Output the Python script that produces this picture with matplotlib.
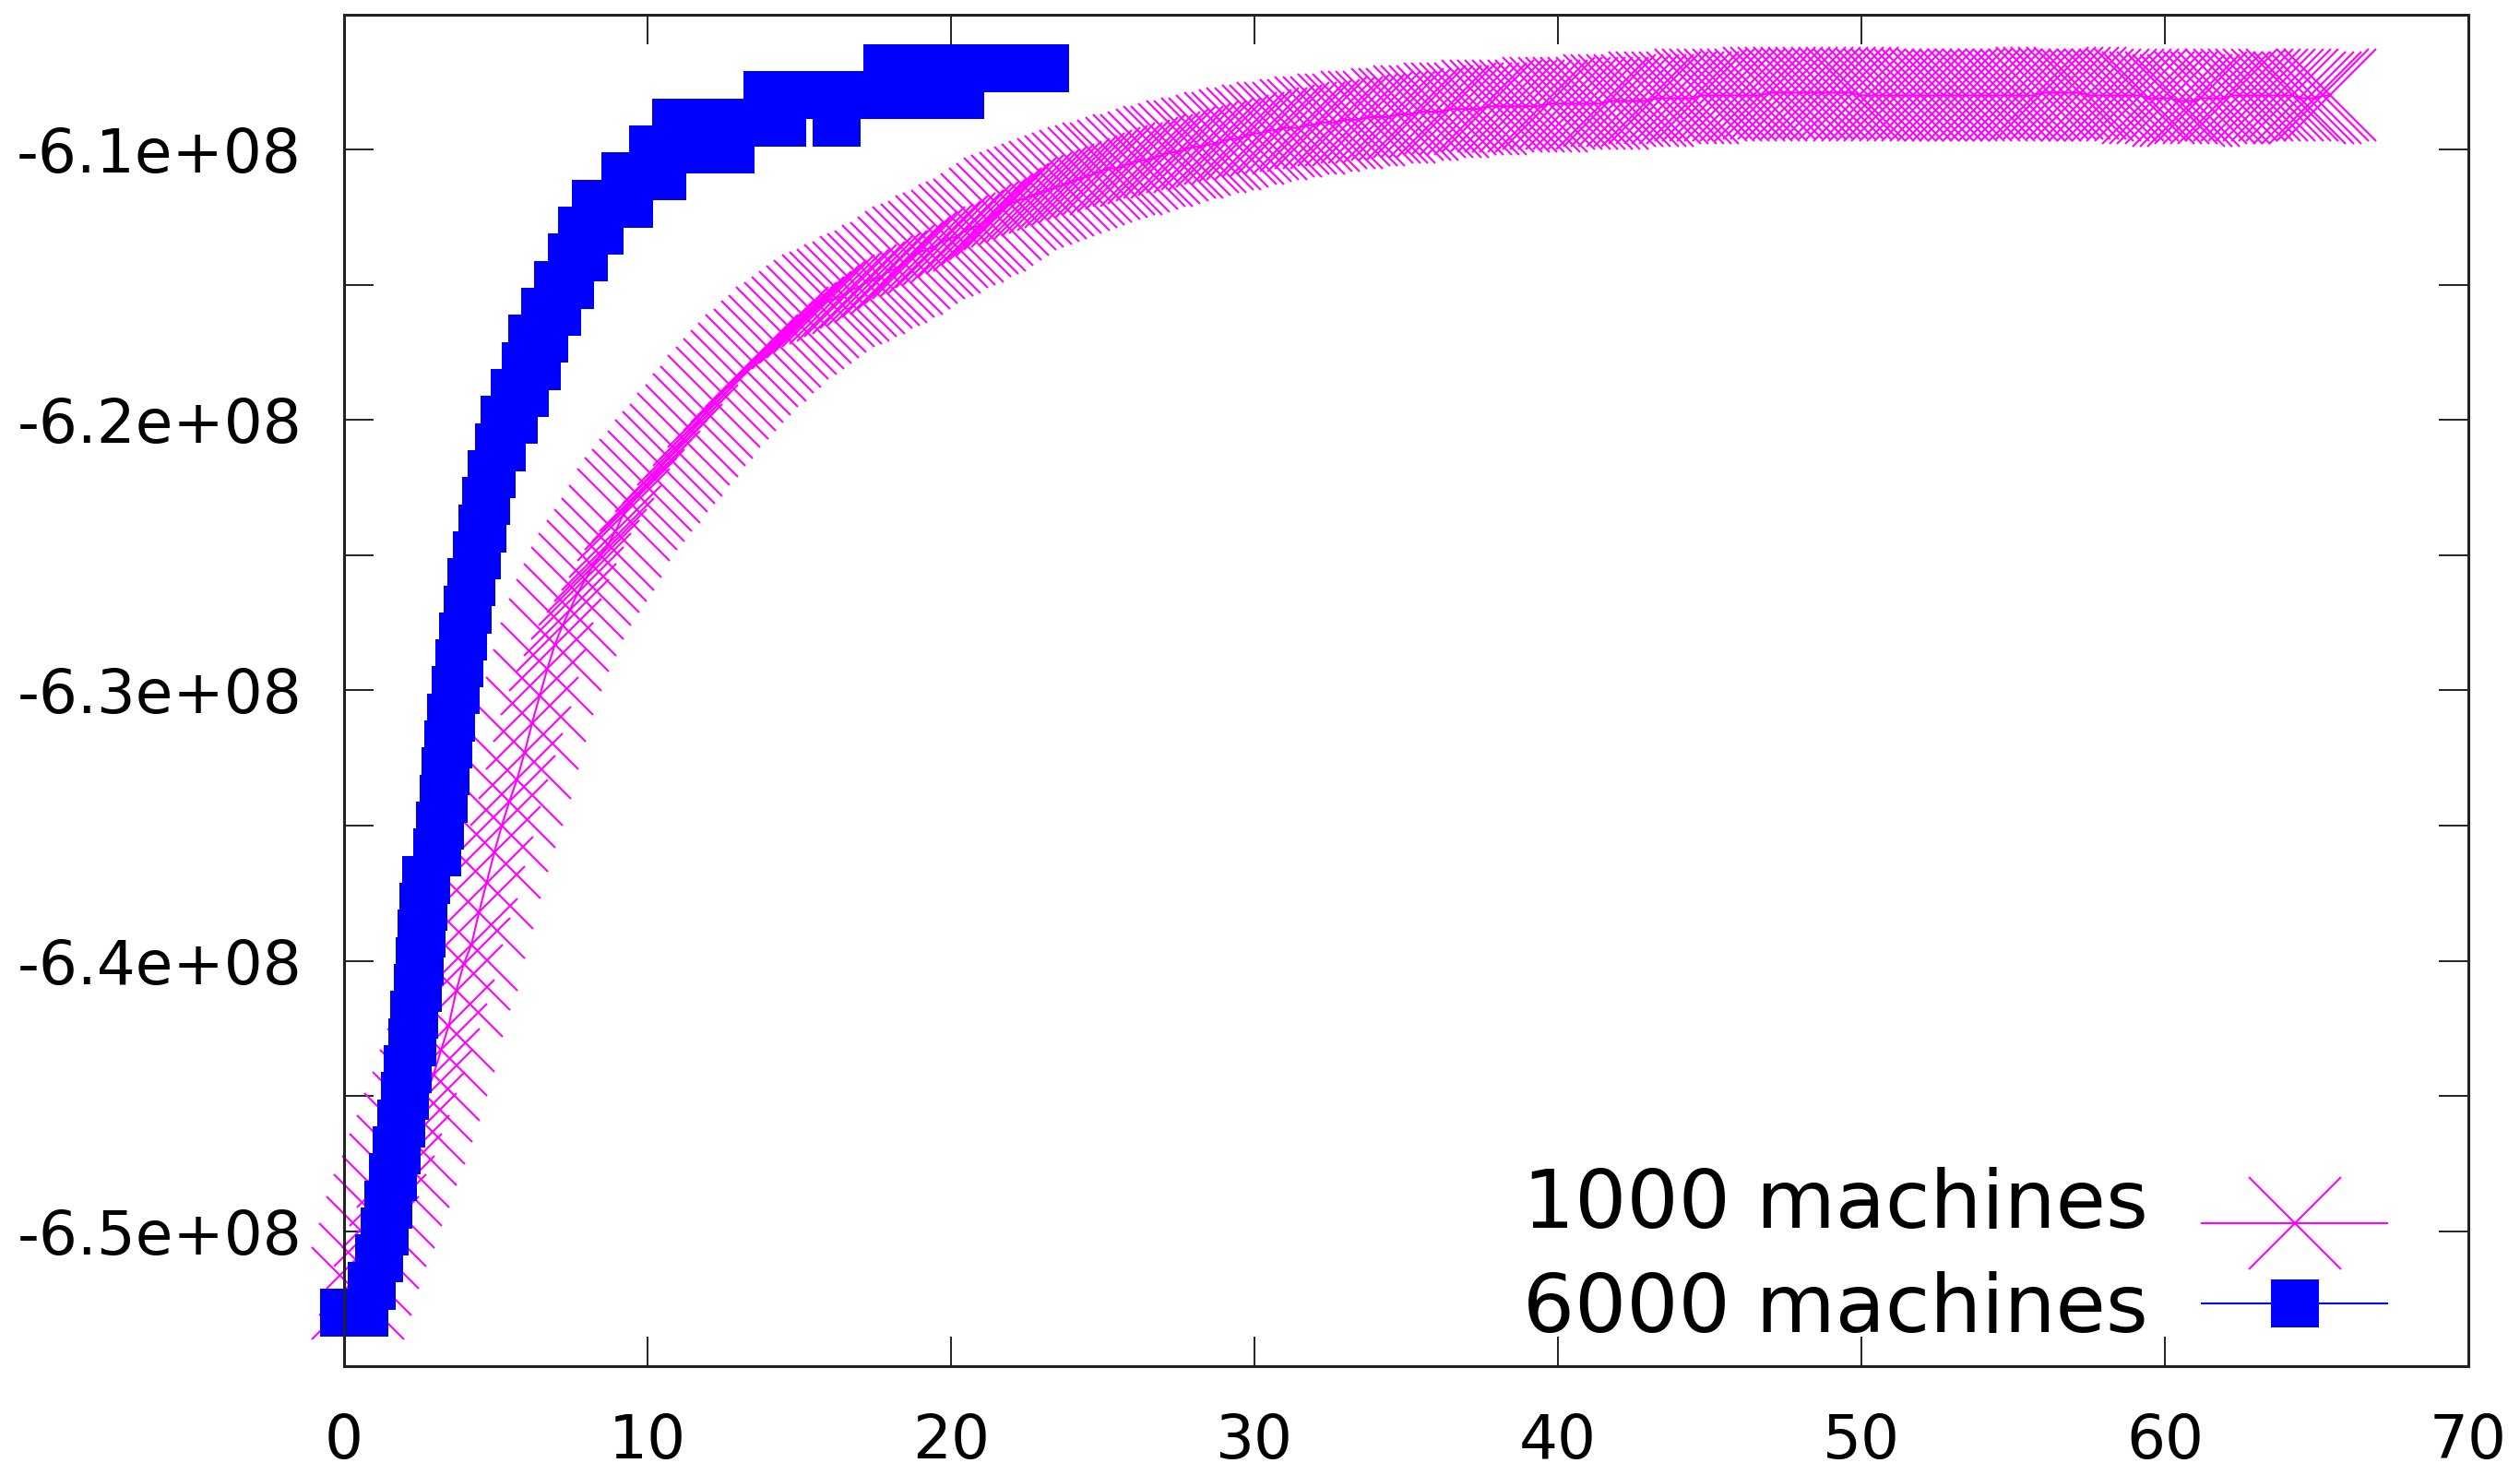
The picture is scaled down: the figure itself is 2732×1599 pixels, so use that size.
import matplotlib
matplotlib.use("Agg")
import matplotlib.pyplot as plt
from matplotlib.ticker import FixedLocator, FuncFormatter
from matplotlib.legend_handler import HandlerLine2D
import numpy as np

# ---------------- data ----------------
series_labels = ["1000 machines", "6000 machines"]

# 1000 machines (x = time, y in units of 1e6)
mag_x = [
    0.45, 0.70, 0.95, 1.20, 1.45, 1.70, 1.95, 2.20, 2.45, 2.70,
    2.95, 3.20, 3.45, 3.70, 3.95, 4.20, 4.45, 4.70, 4.95, 5.20,
    5.45, 5.70, 5.95, 6.20, 6.45, 6.70, 6.95, 7.20, 7.45, 7.70,
    7.95, 8.20, 8.45, 8.70, 8.95, 9.20, 9.45, 9.70, 9.95, 10.20,
    10.45, 10.70, 10.95, 11.20, 11.45, 11.70, 11.95, 12.20, 12.45, 12.70,
    12.95, 13.20, 13.45, 13.70, 13.95, 14.20, 14.45, 14.70, 14.95, 15.20,
    15.45, 15.70, 15.95, 16.20, 16.45, 16.70, 16.95, 17.20, 17.45, 17.70,
    17.95, 18.20, 18.45, 18.70, 18.95, 19.20, 19.45, 19.70, 19.95, 20.20,
    20.45, 20.70, 20.95, 21.20, 21.45, 21.70, 21.95, 22.20, 22.45, 22.70,
    22.95, 23.20, 23.45, 23.70, 23.95, 24.20, 24.45, 24.70, 24.95, 25.20,
    25.45, 25.70, 25.95, 26.20, 26.45, 26.70, 26.95, 27.20, 27.45, 27.70,
    27.95, 28.20, 28.45, 28.70, 28.95, 29.20, 29.45, 29.70, 29.95, 30.20,
    30.45, 30.70, 30.95, 31.20, 31.45, 31.70, 31.95, 32.20, 32.45, 32.70,
    32.95, 33.20, 33.45, 33.70, 33.95, 34.20, 34.45, 34.70, 34.95, 35.20,
    35.45, 35.70, 35.95, 36.20, 36.45, 36.70, 36.95, 37.20, 37.45, 37.70,
    37.95, 38.20, 38.45, 38.70, 38.95, 39.20, 39.45, 39.70, 39.95, 40.20,
    40.45, 40.70, 40.95, 41.20, 41.45, 41.70, 41.95, 42.20, 42.45, 42.70,
    42.95, 43.20, 43.45, 43.70, 43.95, 44.20, 44.45, 44.70, 44.95, 45.20,
    45.45, 45.70, 45.95, 46.20, 46.45, 46.70, 46.95, 47.20, 47.45, 47.70,
    47.95, 48.20, 48.45, 48.70, 48.95, 49.20, 49.45, 49.70, 49.95, 50.20,
    50.45, 50.70, 50.95, 51.20, 51.45, 51.70, 51.95, 52.20, 52.45, 52.70,
    52.95, 53.20, 53.45, 53.70, 53.95, 54.20, 54.45, 54.70, 54.95, 55.20,
    55.45, 55.70, 55.95, 56.20, 56.45, 56.70, 56.95, 57.20, 57.45, 57.70,
    57.95, 58.20, 58.45, 58.70, 58.95, 59.20, 59.45, 59.70, 59.95, 60.20,
    60.45, 60.70, 60.95, 61.20, 61.45, 61.70, 61.95, 62.20, 62.45, 62.70,
    62.95, 63.20, 63.45, 63.70, 63.95, 64.20, 64.45, 64.70, 64.95, 65.20,
    65.45,
]
mag_y = [
    -652.3, -651.4, -650.4, -649.6, -648.9, -648.1, -647.4, -646.6, -645.8, -645.0,
    -644.2, -643.3, -642.4, -641.1, -640.1, -639.4, -638.2, -637.1, -636.0, -635.0,
    -634.1, -633.3, -632.3, -631.2, -630.2, -629.2, -628.3, -627.6, -627.0, -626.4,
    -625.9, -625.4, -625.0, -624.6, -624.1, -623.5, -623.1, -622.8, -622.4, -622.1,
    -621.7, -621.4, -621.1, -620.7, -620.4, -620.0, -619.7, -619.3, -619.0, -618.7,
    -618.4, -618.1, -617.8, -617.6, -617.3, -617.1, -616.8, -616.6, -616.4, -616.2,
    -616.0, -615.8, -615.6, -615.5, -615.4, -615.2, -615.1, -614.9, -614.8, -614.7,
    -614.5, -614.4, -614.2, -614.0, -613.8, -613.7, -613.6, -613.4, -613.3, -613.2,
    -613.0, -612.9, -612.8, -612.6, -612.4, -612.2, -612.0, -611.9, -611.8, -611.7,
    -611.6, -611.5, -611.4, -611.3, -611.2, -611.1, -611.0, -610.9, -610.8, -610.7,
    -610.7, -610.6, -610.5, -610.4, -610.4, -610.3, -610.2, -610.1, -610.1, -610.0,
    -609.9, -609.9, -609.8, -609.8, -609.7, -609.6, -609.6, -609.5, -609.4, -609.4,
    -609.3, -609.3, -609.2, -609.2, -609.2, -609.1, -609.1, -609.0, -609.0, -609.0,
    -608.9, -608.9, -608.9, -608.8, -608.8, -608.8, -608.8, -608.7, -608.7, -608.7,
    -608.6, -608.6, -608.6, -608.6, -608.5, -608.5, -608.5, -608.5, -608.5, -608.4,
    -608.4, -608.4, -608.4, -608.4, -608.4, -608.4, -608.4, -608.3, -608.3, -608.3,
    -608.3, -608.3, -608.3, -608.3, -608.3, -608.2, -608.2, -608.2, -608.2, -608.2,
    -608.2, -608.1, -608.1, -608.1, -608.1, -608.1, -608.1, -608.0, -608.0, -608.0,
    -608.0, -608.0, -608.0, -608.0, -608.0, -608.0, -607.9, -607.9, -607.9, -607.9,
    -607.9, -607.9, -607.9, -607.9, -607.9, -607.9, -607.9, -607.9, -608.0, -608.0,
    -608.0, -608.0, -608.0, -608.0, -608.0, -608.0, -608.0, -608.0, -608.0, -608.0,
    -608.0, -608.0, -608.0, -608.0, -608.0, -608.0, -608.0, -608.0, -608.0, -608.0,
    -608.0, -608.0, -607.9, -607.9, -607.9, -607.9, -607.9, -607.9, -608.0, -608.0,
    -608.0, -608.0, -608.0, -608.0, -608.0, -608.0, -608.1, -608.1, -608.1, -608.1,
    -608.2, -608.2, -608.2, -608.1, -608.1, -608.1, -608.1, -608.0, -608.0, -608.0,
    -608.0, -608.0, -608.0, -608.0, -608.0, -608.0, -608.1, -608.1, -608.1, -608.0,
    -608.0,
]

# 6000 machines (x = time, y in units of 1e6)
blue_x = [
    0.00, 0.33, 0.67, 0.90, 1.15, 1.35, 1.45, 1.62, 1.73, 1.88,
    2.00, 2.10, 2.25, 2.31, 2.43, 2.50, 2.57, 2.63, 2.70, 3.07,
    3.17, 3.28, 3.34, 3.43, 3.54, 3.67, 3.80, 3.93, 4.08, 4.20,
    4.38, 4.55, 4.68, 4.88, 5.11, 5.20, 5.29, 5.45, 5.58, 5.64,
    5.80, 5.96, 6.00, 6.20, 6.36, 6.60, 6.63, 6.85, 7.02, 7.05,
    7.25, 7.45, 7.51, 7.70, 7.84, 7.89, 8.10, 8.30, 8.42, 8.60,
    8.85, 9.10, 9.26, 9.40, 9.60, 9.85, 10.17, 10.30, 10.49, 10.70,
    10.95, 11.20, 11.50, 11.80, 12.10, 12.40, 12.73, 13.00, 13.40, 13.70,
    13.94, 14.20, 14.44, 14.80, 15.20, 15.60, 16.00, 16.24, 16.60, 17.00,
    17.40, 17.90, 18.30, 18.80, 19.30, 19.80, 20.32, 20.80, 21.40, 22.00,
    22.60, 23.10,
]
blue_y = [
    -653, -653, -653, -652, -651, -650, -649, -648, -647, -646,
    -645, -644, -643, -642, -641, -640, -639, -638, -637, -636,
    -635, -634, -633, -632, -631, -630, -629, -628, -627, -626,
    -625, -624, -623, -622, -621, -621, -620, -620, -620, -619,
    -619, -619, -618, -617, -618, -617, -616, -616, -616, -615,
    -615, -615, -614, -614, -613, -614, -613, -612, -613, -612,
    -612, -612, -611, -612, -611, -611, -610, -611, -611, -610,
    -609, -610, -609, -610, -609, -610, -610, -609, -609, -609,
    -608, -609, -609, -608, -608, -608, -608, -609, -608, -608,
    -608, -607, -608, -607, -608, -607, -608, -607, -607, -607,
    -607, -607,
]

x_ticks = [0, 10, 20, 30, 40, 50, 60, 70]
y_ticks = [-650, -645, -640, -635, -630, -625, -620, -615, -610]  # units of 1e6
x_limits = (0, 70)
y_limits = (-655, -605)


class ShiftedLineHandler(HandlerLine2D):
    """Legend line sample drawn slightly below the text centre (gnuplot-like)."""

    def __init__(self, dy=0.0, **kw):
        super().__init__(**kw)
        self.dy = dy

    def create_artists(self, legend, orig_handle, xdescent, ydescent, width,
                       height, fontsize, trans):
        arts = super().create_artists(legend, orig_handle, xdescent, ydescent,
                                      width, height, fontsize, trans)
        for a in arts:
            a.set_ydata(np.asarray(a.get_ydata()) - self.dy * fontsize)
        return arts


# ---------------- figure ----------------
fig = plt.figure(figsize=(27.32, 15.99), dpi=100)
ax = fig.add_axes([0.1365, 0.0735, 0.8430, 0.9168])

scale = 1e6
line_mag, = ax.plot(np.array(mag_x), np.array(mag_y) * scale, color="#ff00ff",
                    lw=1.5, marker="x", ms=72, mew=1.5,
                    label=series_labels[0], zorder=2, clip_on=False)
line_blue, = ax.plot(np.array(blue_x), np.array(blue_y) * scale,
                     color="#0000ff", lw=1.5, marker="s", ms=37.4, mew=0,
                     label=series_labels[1], zorder=3, clip_on=False)

ax.set_xlim(*x_limits)
ax.set_ylim(y_limits[0] * scale, y_limits[1] * scale)

ax.xaxis.set_major_locator(FixedLocator(x_ticks))
ax.yaxis.set_major_locator(FixedLocator([v * scale for v in y_ticks]))
ax.xaxis.set_major_formatter(FuncFormatter(lambda v, p: f"{v:g}"))


def yfmt(v, p):
    m = int(round(v / scale))
    return f"{v:.1e}" if m % 10 == 0 else ""


ax.yaxis.set_major_formatter(FuncFormatter(yfmt))

ax.tick_params(axis="both", which="major", direction="in", length=23,
               width=1.4, color="#222222", top=True, right=True,
               labelsize=47.5, labelcolor="black")
ax.tick_params(axis="x", pad=36)
ax.tick_params(axis="y", pad=33)
for s in ax.spines.values():
    s.set_linewidth(2.2)
    s.set_color("#222222")
    s.set_zorder(5)

ax.legend(handles=[line_mag, line_blue], loc="lower right",
          bbox_to_anchor=(0.962, 0.0136), frameon=False,
          fontsize=63.5, markerfirst=False, handlelength=2.28,
          handletextpad=0.66, labelspacing=0.32, borderpad=0,
          borderaxespad=0, numpoints=1,
          handler_map={line_mag: ShiftedLineHandler(dy=0.29)})

fig.savefig("out.png", dpi=100)
